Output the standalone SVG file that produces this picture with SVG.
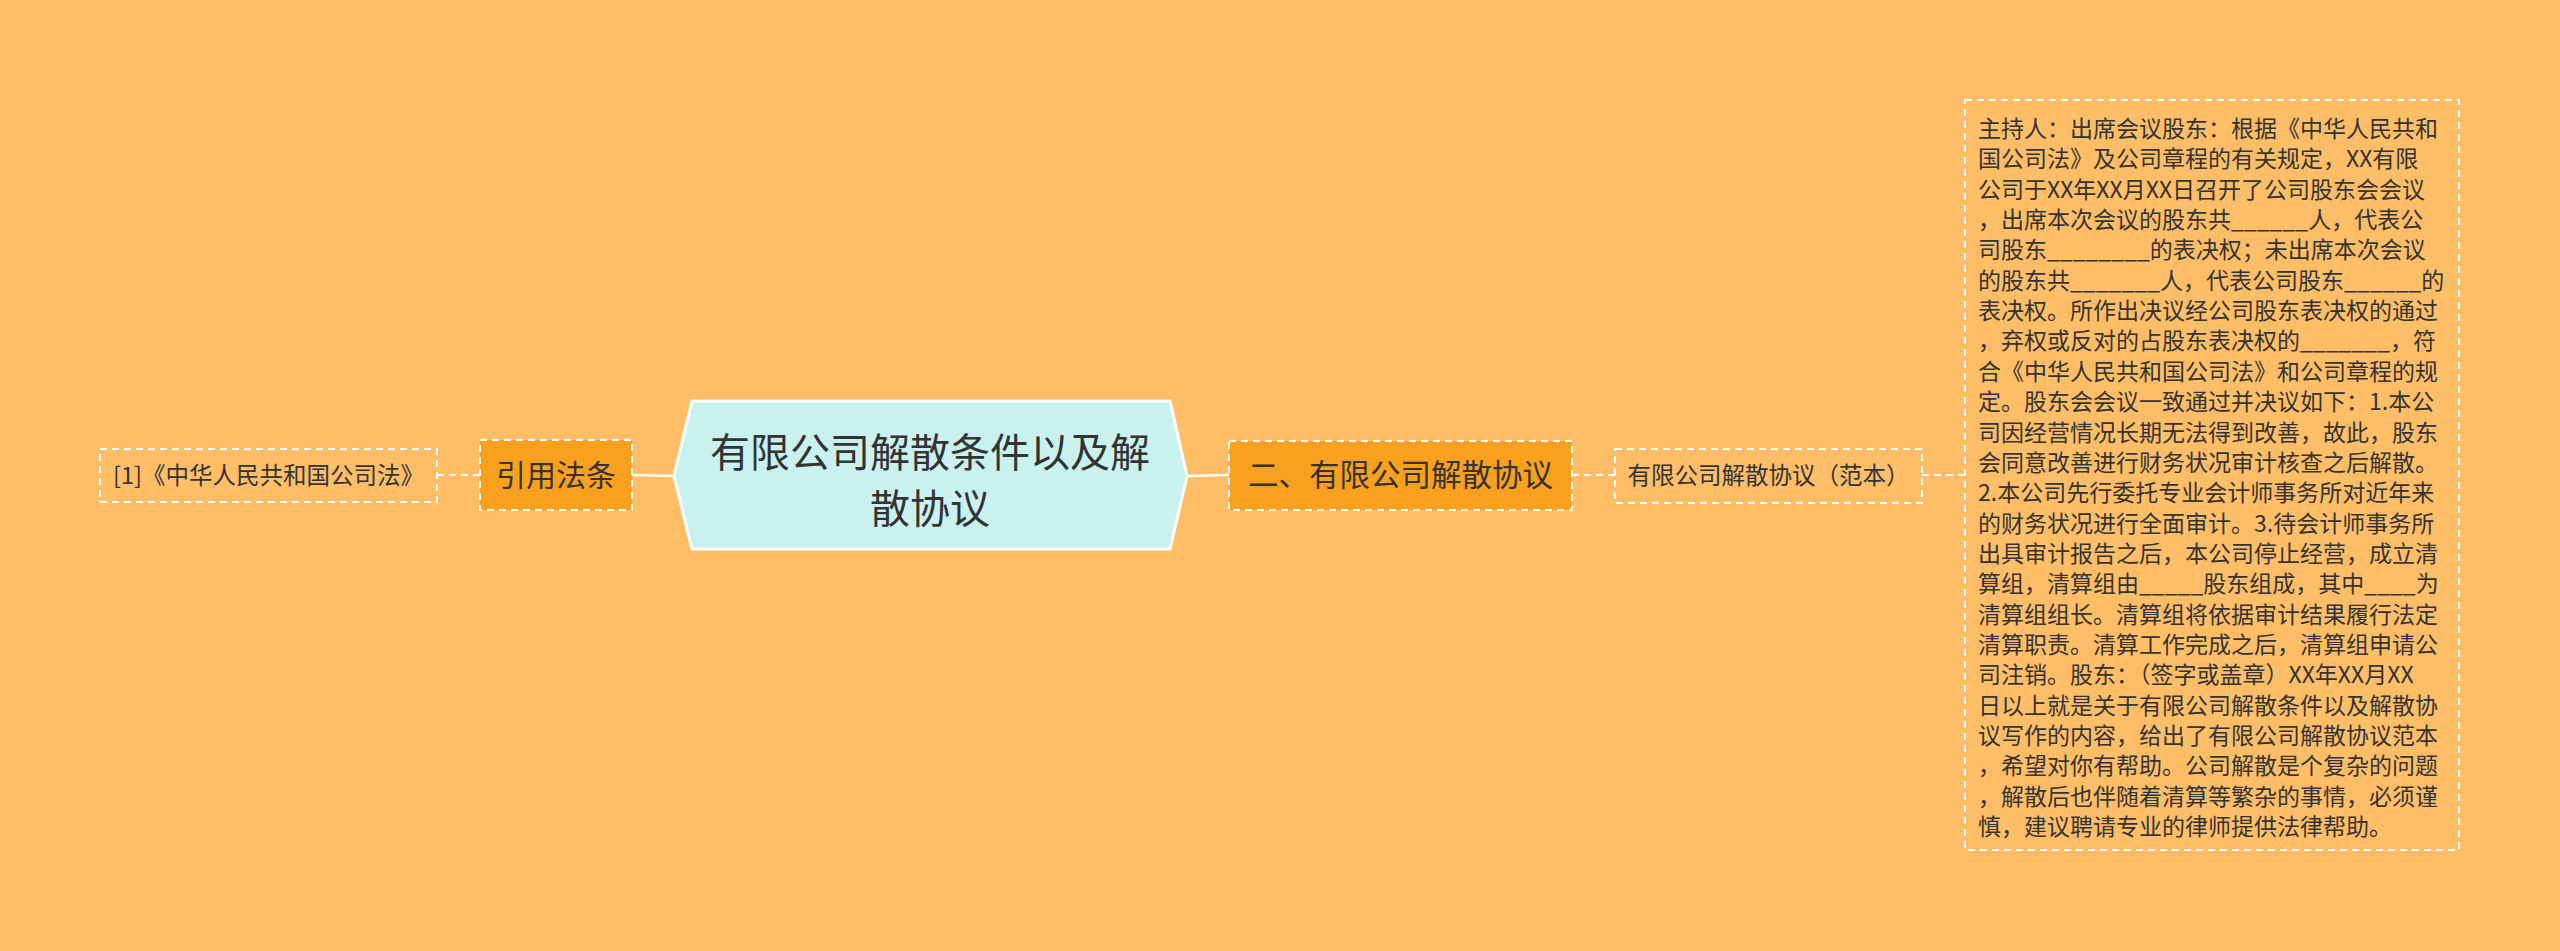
<svg xmlns="http://www.w3.org/2000/svg" width="2560" height="951" viewBox="0 0 2560 951">
<style>
.t{font-family:"Noto Sans CJK SC","Noto Sans",sans-serif;fill:#333333}
.dash{fill:none;stroke:#FFFFFF;stroke-width:2;stroke-dasharray:7 5}
.org{fill:#F9A11E;stroke:#FFFFFF;stroke-width:2;stroke-dasharray:7 5}
.solid{fill:none;stroke:#FFFFFF;stroke-width:2.5}
</style>
<rect x="0" y="0" width="2560" height="951" fill="#FEBE68"/>
<g id="connectors">
<line class="dash" x1="437" y1="475" x2="480" y2="475"/>
<line class="solid" x1="632" y1="475" x2="674" y2="476"/>
<line class="solid" x1="1187" y1="476" x2="1229" y2="475"/>
<line class="dash" x1="1572" y1="475" x2="1615" y2="475"/>
<line class="dash" x1="1922" y1="475" x2="1965" y2="475"/>
</g>
<g id="center">
<polygon points="674,476 692,401 1170,401 1187,476 1170,549 692,549" fill="#C9F2EF" stroke="#FFFFFF" stroke-width="3"/>
<text class="t" font-size="40" text-anchor="middle"><tspan x="930" y="467">有限公司解散条件以及解</tspan><tspan x="930" y="523">散协议</tspan></text>
</g>
<g id="node-yinyong">
<rect class="org" x="480" y="440" width="152" height="70"/>
<text class="t" font-size="30" text-anchor="middle" x="556" y="486">引用法条</text>
</g>
<g id="leaf-law">
<rect class="dash" x="100" y="449" width="337" height="53"/>
<text class="t" font-size="23.5" text-anchor="middle" x="268.5" y="484">[1]《中华人民共和国公司法》</text>
</g>
<g id="node-xieyi">
<rect class="org" x="1229" y="441" width="343" height="69"/>
<text class="t" font-size="30.5" text-anchor="middle" x="1400.5" y="486">二、有限公司解散协议</text>
</g>
<g id="leaf-fanben">
<rect class="dash" x="1615" y="449" width="307" height="54"/>
<text class="t" font-size="23.5" text-anchor="middle" x="1768.5" y="484">有限公司解散协议（范本）</text>
</g>
<g id="leaf-content">
<rect class="dash" x="1965" y="100" width="494" height="750"/>
<text class="t" font-size="23" x="1978" y="137">
<tspan x="1978" y="137">主持人：出席会议股东：根据《中华人民共和</tspan>
<tspan x="1978" dy="30.35">国公司法》及公司章程的有关规定，XX有限</tspan>
<tspan x="1978" dy="30.35">公司于XX年XX月XX日召开了公司股东会会议</tspan>
<tspan x="1978" dy="30.35">，出席本次会议的股东共______人，代表公</tspan>
<tspan x="1978" dy="30.35">司股东________的表决权；未出席本次会议</tspan>
<tspan x="1978" dy="30.35">的股东共_______人，代表公司股东______的</tspan>
<tspan x="1978" dy="30.35">表决权。所作出决议经公司股东表决权的通过</tspan>
<tspan x="1978" dy="30.35">，弃权或反对的占股东表决权的_______，符</tspan>
<tspan x="1978" dy="30.35">合《中华人民共和国公司法》和公司章程的规</tspan>
<tspan x="1978" dy="30.35">定。股东会会议一致通过并决议如下：1.本公</tspan>
<tspan x="1978" dy="30.35">司因经营情况长期无法得到改善，故此，股东</tspan>
<tspan x="1978" dy="30.35">会同意改善进行财务状况审计核查之后解散。</tspan>
<tspan x="1978" dy="30.35">2.本公司先行委托专业会计师事务所对近年来</tspan>
<tspan x="1978" dy="30.35">的财务状况进行全面审计。3.待会计师事务所</tspan>
<tspan x="1978" dy="30.35">出具审计报告之后，本公司停止经营，成立清</tspan>
<tspan x="1978" dy="30.35">算组，清算组由_____股东组成，其中____为</tspan>
<tspan x="1978" dy="30.35">清算组组长。清算组将依据审计结果履行法定</tspan>
<tspan x="1978" dy="30.35">清算职责。清算工作完成之后，清算组申请公</tspan>
<tspan x="1978" dy="30.35">司注销。股东：（签字或盖章）XX年XX月XX</tspan>
<tspan x="1978" dy="30.35">日以上就是关于有限公司解散条件以及解散协</tspan>
<tspan x="1978" dy="30.35">议写作的内容，给出了有限公司解散协议范本</tspan>
<tspan x="1978" dy="30.35">，希望对你有帮助。公司解散是个复杂的问题</tspan>
<tspan x="1978" dy="30.35">，解散后也伴随着清算等繁杂的事情，必须谨</tspan>
<tspan x="1978" dy="30.35">慎，建议聘请专业的律师提供法律帮助。</tspan>
</text>
</g>
</svg>
